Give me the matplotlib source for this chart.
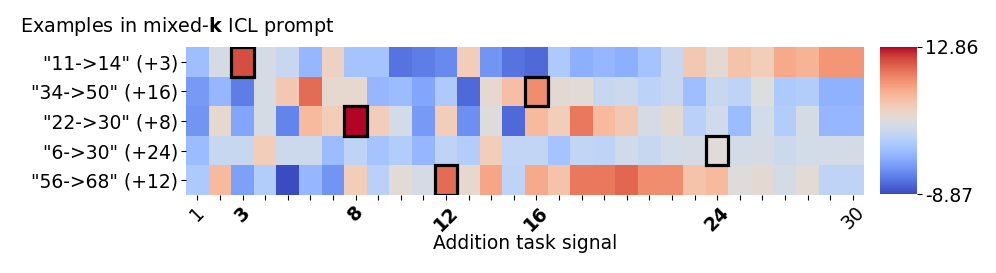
import numpy as np
import matplotlib
matplotlib.use("Agg")
import matplotlib.pyplot as plt
from matplotlib.patches import Rectangle

row_labels = ['"11->14" (+3)', '"34->50" (+16)', '"22->30" (+8)', '"6->30" (+24)', '"56->68" (+12)']
highlight_cols = [3, 16, 8, 24, 12]  # 1-indexed task signal per row
xtick_labels = {1: "1", 3: "3", 8: "8", 12: "12", 16: "16", 24: "24", 30: "30"}
bold_ticks = [3, 8, 12, 16, 24]
vmin, vmax = -8.87, 12.86

row0 = [-2.35, 1.34, 10.90, 1.34, 0.37, -2.89, 3.52, -1.92, -1.92, -6.91,
        -6.37, -5.72, 3.95, -5.07, -6.91, -7.35, -1.37, -3.44, -2.89, -3.44,
        -1.92, 0.37, 4.39, 2.65, 4.82, 3.95, 6.56, 5.91, 7.64, 7.64]
row1 = [-4.74, -2.89, -6.37, 1.34, 4.39, 9.60, 2.76, 2.76, -2.89, -2.57,
        -4.09, -1.37, -7.35, 2.76, 5.15, 8.08, 2.54, 2.43, 0.37, 0.69,
        -0.40, 0.37, -2.35, 0.37, -0.29, 1.99, -1.37, -1.05, -3.22, -3.22]
row2 = [-5.07, 2.76, -4.09, 1.34, -6.05, 5.47, 3.95, 12.86, 3.95, 1.13,
        -4.74, 3.95, -5.39, 2.10, -7.35, 5.47, 3.95, 9.06, 5.47, 4.39,
        1.34, 2.65, -0.61, 0.91, -2.57, 1.13, -1.05, 1.34, -2.89, -2.89]
row3 = [-2.57, 0.37, 0.37, 3.95, 0.69, 0.69, -2.57, -0.29, -1.92, -1.05,
        -2.89, -0.29, -1.05, 3.95, 0.04, 0.04, -1.92, 0.04, -0.29, 0.91,
        0.37, 1.13, 1.34, 2.32, 1.23, 1.34, 0.69, 1.13, 1.23, 1.23]
row4 = [-1.37, 5.47, -4.42, -1.05, -8.87, -2.89, -5.07, 3.95, -0.61, 2.43,
        1.34, 9.60, 2.76, 6.78, -0.29, 6.56, 4.82, 9.06, 9.06, 9.82,
        8.08, 8.08, 4.82, 5.47, 2.10, 2.65, 1.34, 2.43, -0.29, -0.29]

data = np.array([row0, row1, row2, row3, row4])
nrows, ncols = data.shape

fs = 13.5
fig = plt.figure(figsize=(9.96, 2.73), dpi=100)
ax = fig.add_axes([186/996, 1-195/273, (864-186)/996, (195-47)/273])
cax = fig.add_axes([880/996, 1-194/273, 37/996, (194-47)/273])

mesh = ax.pcolormesh(np.arange(ncols+1), np.arange(nrows+1), data,
                     cmap="coolwarm", vmin=vmin, vmax=vmax)
ax.set_xlim(0, ncols)
ax.set_ylim(nrows, 0)
for s in ax.spines.values():
    s.set_visible(False)

for r, c in enumerate(highlight_cols):
    ax.add_patch(Rectangle((c-1, r), 1, 1, fill=False, edgecolor="black", lw=2.3, zorder=5))

ax.set_yticks(np.arange(nrows) + 0.5)
ax.set_yticklabels(row_labels, fontsize=fs)
ax.set_xticks(np.arange(ncols) + 0.5)
labels = [xtick_labels.get(i, "") for i in range(1, ncols+1)]
ax.set_xticklabels(labels, rotation=45, ha="center", fontsize=fs)
for i, t in enumerate(ax.get_xticklabels(), start=1):
    if i in bold_ticks:
        t.set_fontweight("bold")
ax.tick_params(axis="both", length=3.5, width=0.8, pad=2)
ax.set_xlabel("Addition task signal", fontsize=fs, labelpad=0)

cb = fig.colorbar(mesh, cax=cax, ticks=[vmin, vmax])
cb.ax.set_yticklabels(["-8.87", "12.86"], fontsize=fs)
cb.outline.set_visible(False)
cb.ax.tick_params(length=3.5, width=0.8, pad=2)

fig.text(20/996, 1-27/273, r"Examples in mixed-$\mathbf{k}$ ICL prompt", fontsize=13.8, va="center", ha="left")

fig.savefig("out.png", dpi=100)
